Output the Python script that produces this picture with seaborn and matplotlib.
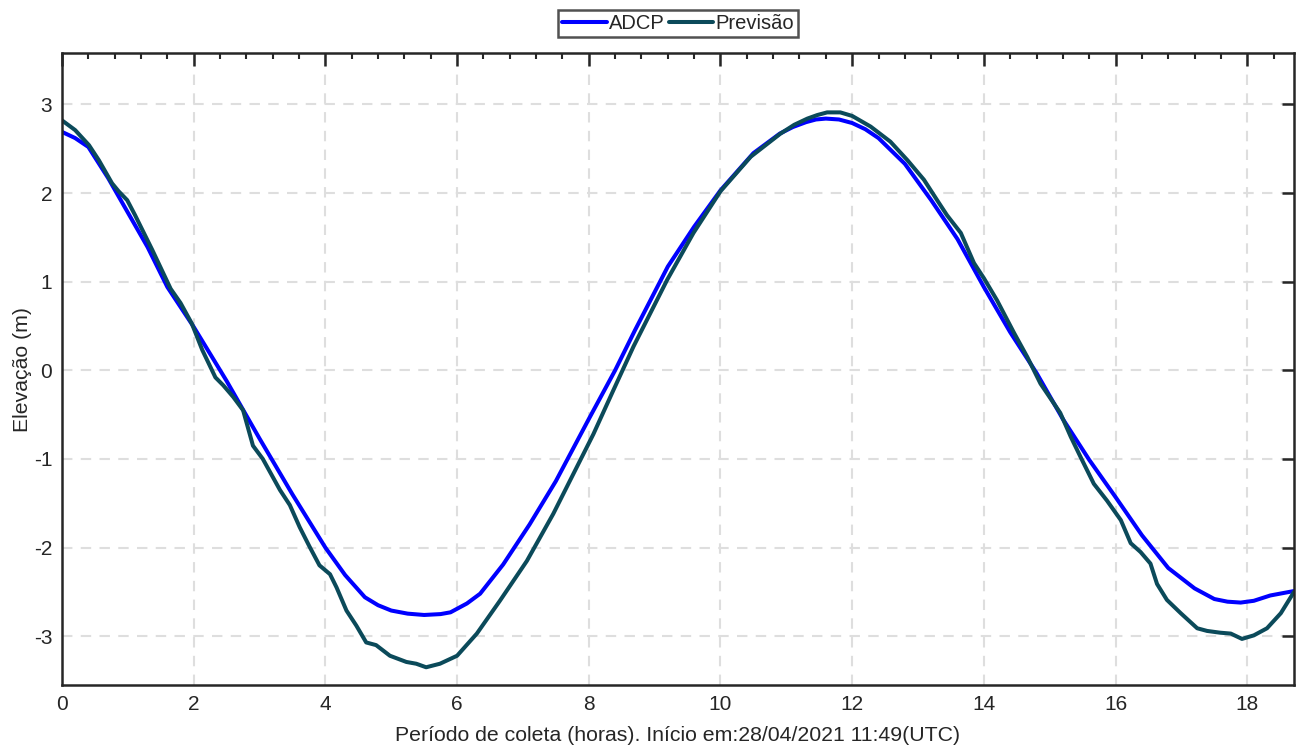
import matplotlib
matplotlib.use("Agg")
import matplotlib.pyplot as plt
from matplotlib.ticker import MultipleLocator
import seaborn as sns
import pandas as pd

# ---- data ----
t_adcp = [0, 0.2, 0.4, 0.7, 1.0, 1.3, 1.6, 2.0, 2.5, 3.0, 3.5, 4.0, 4.3, 4.6, 4.8, 5.0,
          5.25, 5.5, 5.75, 5.9, 6.0, 6.15, 6.35, 6.7, 7.1, 7.5, 8.0, 8.4, 8.7, 9.2, 9.6,
          10.0, 10.5, 10.9, 11.1, 11.3, 11.45, 11.6, 11.8, 12.0, 12.2, 12.4, 12.8, 13.2,
          13.6, 14.0, 14.4, 14.8, 15.2, 15.6, 16.0, 16.4, 16.8, 17.2, 17.5, 17.7, 17.9,
          18.1, 18.35, 18.71]
adcp = [2.69, 2.62, 2.52, 2.17, 1.78, 1.39, 0.94, 0.49, -0.12, -0.77, -1.40, -2.0,
        -2.31, -2.56, -2.65, -2.71, -2.745, -2.76, -2.75, -2.73, -2.69, -2.63, -2.52,
        -2.19, -1.74, -1.25, -0.55, 0.0, 0.45, 1.17, 1.62, 2.03, 2.45, 2.67, 2.745,
        2.80, 2.83, 2.84, 2.83, 2.79, 2.72, 2.62, 2.33, 1.92, 1.48, 0.94, 0.43, -0.03,
        -0.55, -1.01, -1.43, -1.86, -2.23, -2.46, -2.58, -2.61, -2.62, -2.60, -2.54,
        -2.49]

t_prev = [0, 0.2, 0.41, 0.56, 0.76, 0.86, 0.99, 1.11, 1.37, 1.65, 1.80, 1.97, 2.13,
          2.33, 2.45, 2.6, 2.75, 2.90, 3.05, 3.31, 3.46, 3.61, 3.76, 3.91, 4.07,
          4.17, 4.32, 4.47, 4.62, 4.77, 4.98, 5.23, 5.38, 5.53, 5.74, 6.0, 6.30,
          6.65, 7.06, 7.46, 7.86, 8.07, 8.37, 8.68, 9.19, 9.59, 10.0, 10.46, 10.91,
          11.12, 11.32, 11.47, 11.62, 11.82, 12.0, 12.28, 12.58, 12.84, 13.09, 13.29,
          13.44, 13.65, 13.85, 14.0, 14.2, 14.46, 14.66, 14.86, 15.16, 15.32, 15.47,
          15.67, 15.87, 16.08, 16.23, 16.38, 16.53, 16.63, 16.78, 16.99, 17.24,
          17.39, 17.59, 17.75, 17.92, 18.10, 18.30, 18.51, 18.71]
prev = [2.82, 2.71, 2.54, 2.37, 2.11, 2.02, 1.92, 1.75, 1.36, 0.92, 0.76, 0.53, 0.23,
        -0.08, -0.17, -0.30, -0.45, -0.85, -1.0, -1.35, -1.52, -1.77, -1.99, -2.20,
        -2.30, -2.45, -2.71, -2.88, -3.07, -3.10, -3.22, -3.29, -3.31, -3.35, -3.31,
        -3.22, -2.97, -2.60, -2.15, -1.62, -1.03, -0.72, -0.23, 0.27, 1.02, 1.55,
        2.02, 2.41, 2.67, 2.77, 2.84, 2.88, 2.91, 2.91, 2.87, 2.75, 2.58, 2.37, 2.15,
        1.92, 1.75, 1.55, 1.21, 1.04, 0.79, 0.42, 0.15, -0.15, -0.48, -0.75, -0.98,
        -1.28, -1.47, -1.69, -1.95, -2.05, -2.18, -2.41, -2.59, -2.74, -2.91, -2.94,
        -2.96, -2.97, -3.03, -2.99, -2.91, -2.74, -2.50]

series_names = ["ADCP", "Previsão"]
x_ticks = [0, 2, 4, 6, 8, 10, 12, 14, 16, 18]
y_ticks = [-3, -2, -1, 0, 1, 2, 3]
x_label = "Período de coleta (horas). Início em:28/04/2021 11:49(UTC)"
y_label = "Elevação (m)"

# ---- style ----
sns.set_style("white")
plt.rcParams["font.family"] = ["Liberation Sans", "DejaVu Sans"]
plt.rcParams["axes.unicode_minus"] = False

fig = plt.figure(figsize=(13.03, 7.49), dpi=100)
ax = fig.add_axes([62 / 1303, 1 - 685 / 749, (1294 - 62) / 1303, (685 - 53) / 749])

df = pd.concat([
    pd.DataFrame({"t": t_adcp, "v": adcp, "s": series_names[0]}),
    pd.DataFrame({"t": t_prev, "v": prev, "s": series_names[1]}),
])
sns.lineplot(data=df, x="t", y="v", hue="s", hue_order=series_names,
             palette=["#0000FF", "#0B4A5A"], linewidth=2.9, ax=ax, sort=False,
             estimator=None)

ax.set_xlim(0, 18.71)
ax.set_ylim(-3.55, 3.58)
ax.set_xticks(x_ticks)
ax.set_yticks(y_ticks)
ax.xaxis.set_minor_locator(MultipleLocator(0.4))

ax.grid(True, which="major", color="#dedede", linestyle=(0, (5, 4)), linewidth=1.5)
ax.set_axisbelow(True)

for sp in ax.spines.values():
    sp.set_visible(True)
    sp.set_color("#262626")
    sp.set_linewidth(1.8)

ax.tick_params(which="major", direction="in", length=9, width=1.8, color="#262626",
               top=True, right=True, labelsize=15, labelcolor="#262626", pad=7)
ax.tick_params(which="minor", direction="in", length=4.5, width=1.5, color="#262626",
               top=True, right=False, left=False)

ax.set_xlabel(x_label, fontsize=15.3, color="#262626", labelpad=9)
ax.set_ylabel(y_label, fontsize=15.3, color="#262626", labelpad=1)

leg = ax.legend(loc="upper center", bbox_to_anchor=(0.5, 1.068), ncol=2,
                fontsize=14.5, handlelength=2.2, handletextpad=0.1, columnspacing=0.2,
                borderpad=0.2, borderaxespad=0, frameon=True, fancybox=False)
leg.get_frame().set_edgecolor("#262626")
leg.get_frame().set_linewidth(1.8)
for line in leg.get_lines():
    line.set_linewidth(2.9)

fig.savefig("out.png", dpi=100)
